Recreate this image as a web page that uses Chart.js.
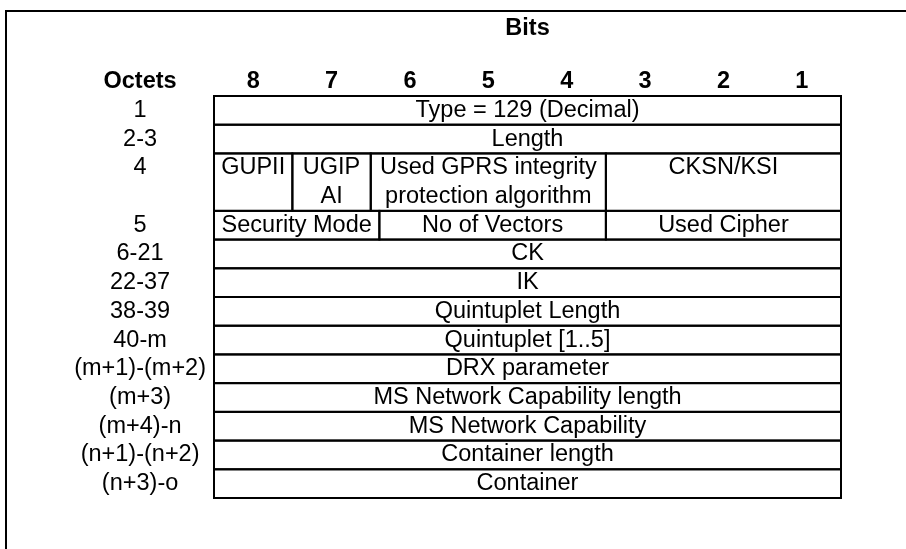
<!DOCTYPE html>
<html>
<head>
<meta charset="utf-8">
<script src="https://cdn.jsdelivr.net/npm/chart.js"></script>
<style>
  html, body { margin: 0; background: #fff; }
  #wrap { width: 906px; height: 549px; }
</style>
</head>
<body>
<div id="wrap"><canvas id="ieChart"></canvas></div>
<script>
const bitLabels = ['8', '7', '6', '5', '4', '3', '2', '1'];
const octetLabels = ['1', '2-3', '4', '5', '6-21', '22-37', '38-39', '40-m', '(m+1)-(m+2)', '(m+3)', '(m+4)-n', '(n+1)-(n+2)', '(n+3)-o'];
const octetSpans = [1, 1, 2, 1, 1, 1, 1, 1, 1, 1, 1, 1, 1];

// fields: octet row, left and right edge in bits (0 = left side of bit 8), text lines
const fieldRow  = [0, 1, 2, 2, 2, 2, 3, 3, 3, 4, 5, 6, 7, 8, 9, 10, 11, 12];
const fieldFrom = [0, 0, 0, 1, 2, 5, 0, 2.11, 5, 0, 0, 0, 0, 0, 0, 0, 0, 0];
const fieldTo   = [8, 8, 1, 2, 5, 8, 2.11, 5, 8, 8, 8, 8, 8, 8, 8, 8, 8, 8];
const fieldText = [
  ['Type = 129 (Decimal)'],
  ['Length'],
  ['GUPII'],
  ['UGIP', 'AI'],
  ['Used GPRS integrity', 'protection algorithm'],
  ['CKSN/KSI'],
  ['Security Mode'],
  ['No of Vectors'],
  ['Used Cipher'],
  ['CK'],
  ['IK'],
  ['Quintuplet Length'],
  ['Quintuplet [1..5]'],
  ['DRX parameter'],
  ['MS Network Capability length'],
  ['MS Network Capability'],
  ['Container length'],
  ['Container']
];

const rowStart = [];
octetSpans.reduce((acc, s) => { rowStart.push(acc); return acc + s; }, 0);
const totalRows = octetSpans.reduce((a, b) => a + b, 0);
const yLabels = ['Octets', ...octetLabels];

const FONT = '"Liberation Sans", Arial, sans-serif';
const SIZE = 23.5;
Chart.defaults.font.family = FONT;
Chart.defaults.color = '#000';

const fieldPlugin = {
  id: 'fields',
  afterDraw(chart) {
    const { ctx, scales: { x, y } } = chart;
    ctx.save();
    ctx.strokeStyle = '#000';
    ctx.lineWidth = 2;
    // outer frame runs off the right and bottom edge
    ctx.strokeRect(6, 11, 1000, 1000);

    ctx.font = SIZE + 'px ' + FONT;
    ctx.fillStyle = '#000';
    ctx.textAlign = 'center';
    ctx.textBaseline = 'middle';
    fieldText.forEach((lines, i) => {
      const r = fieldRow[i];
      const x0 = x.getPixelForValue(fieldFrom[i]);
      const x1 = x.getPixelForValue(fieldTo[i]);
      const y0 = y.getPixelForValue(rowStart[r]);
      const y1 = y.getPixelForValue(rowStart[r] + octetSpans[r]);
      ctx.strokeRect(x0, y0, x1 - x0, y1 - y0);
      lines.forEach((t, k) => {
        ctx.fillText(t, (x0 + x1) / 2, y.getPixelForValue(rowStart[r] + 0.5 + k));
      });
    });
    ctx.restore();
  }
};

new Chart(document.getElementById('ieChart'), {
  type: 'scatter',
  data: { datasets: [] },
  options: {
    responsive: true,
    maintainAspectRatio: false,
    animation: false,
    layout: { padding: { left: 0, top: 0, right: 65, bottom: 51 } },
    plugins: { legend: { display: false }, tooltip: { enabled: false } },
    scales: {
      x: {
        type: 'linear',
        position: 'top',
        min: 0,
        max: bitLabels.length,
        grid: { display: false, drawTicks: false },
        border: { display: false },
        afterBuildTicks: (scale) => { scale.ticks = bitLabels.map((_, i) => ({ value: i + 0.5 })); },
        afterFit: (scale) => { scale.height = 96; },
        ticks: {
          autoSkip: false,
          maxRotation: 0,
          padding: 0,
          font: { size: SIZE, weight: 'bold' },
          callback: (v, i) => bitLabels[i]
        },
        title: {
          display: true,
          text: 'Bits',
          font: { size: SIZE, weight: 'bold' },
          padding: { top: 14, bottom: 0 }
        }
      },
      y: {
        type: 'linear',
        reverse: true,
        min: 0,
        max: totalRows,
        grid: { display: false, drawTicks: false },
        border: { display: false },
        afterBuildTicks: (scale) => {
          scale.ticks = [{ value: -0.5 }, ...rowStart.map(s => ({ value: s + 0.5 }))];
        },
        afterFit: (scale) => { scale.width = 214; },
        ticks: {
          autoSkip: false,
          crossAlign: 'center',
          padding: 8,
          font: (c) => ({ size: SIZE, weight: c.index === 0 ? 'bold' : 'normal' }),
          callback: (v, i) => yLabels[i]
        }
      }
    }
  },
  plugins: [fieldPlugin]
});
</script>
</body>
</html>
